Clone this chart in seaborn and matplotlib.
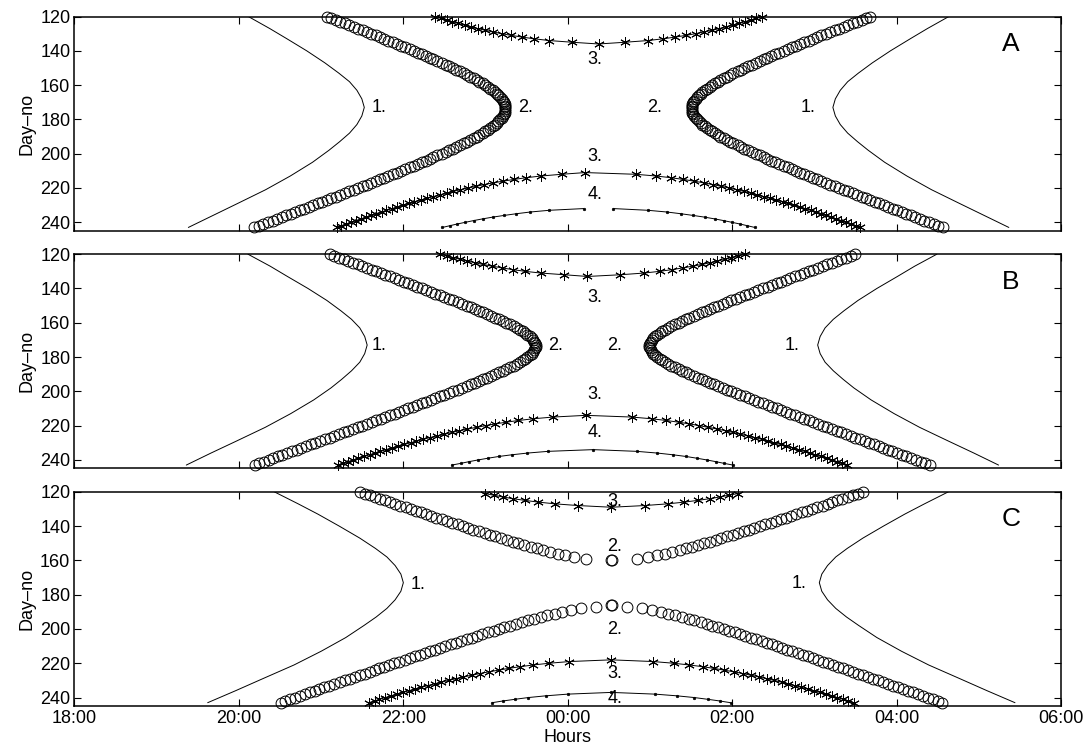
"""
Night-time curves (1.-4.) against day number, three stations A, B, C.
Hours run on a continuous clock: 24 = 00:00, 30 = 06:00.
Every curve is symmetric about local midnight, so it is stored as a
half-width (hours either side of the panel's midnight) per day number.
"""
import numpy as np
import matplotlib
matplotlib.use("Agg")
import matplotlib.pyplot as plt
import seaborn as sns

HOUR_TICKS = [18, 20, 22, 24, 26, 28, 30]
HOUR_LABELS = ["18:00", "20:00", "22:00", "00:00", "02:00", "04:00", "06:00"]
DAY_TICKS = [120, 140, 160, 180, 200, 220, 240]

# local midnight of each panel (hours)
A_MID = 24.375
B_MID = 24.30
C_MID = 24.53

# ---------- curve 1 (plain line) ----------
C1_DAYS = [120, 127, 133, 140, 147, 153, 158, 163, 168, 173, 178,
           183, 188, 193, 198, 205, 213, 221, 229, 236, 243]
A_C1_HW = [4.26, 4.00, 3.79, 3.55, 3.33, 3.16, 3.03, 2.94, 2.88, 2.85, 2.88,
           2.94, 3.03, 3.15, 3.28, 3.48, 3.75, 4.05, 4.39, 4.69, 4.99]
B_C1_HW = [4.19, 3.92, 3.71, 3.46, 3.23, 3.06, 2.93, 2.83, 2.77, 2.74, 2.77,
           2.83, 2.93, 3.05, 3.18, 3.39, 3.67, 3.98, 4.33, 4.64, 4.94]
C_C1_HW = [4.10, 3.81, 3.57, 3.31, 3.06, 2.87, 2.73, 2.63, 2.56, 2.53, 2.56,
           2.63, 2.73, 2.86, 3.01, 3.23, 3.53, 3.86, 4.24, 4.57, 4.91]

# ---------- curve 2 (open circles, one per day) ----------
AB_C2_DAYS = list(range(120, 244))
A_C2_HW = [3.30, 3.25, 3.20, 3.14, 3.09, 3.03, 2.98, 2.93, 2.87, 2.82,
           2.77, 2.71, 2.66, 2.61, 2.56, 2.50, 2.45, 2.40, 2.35, 2.30,
           2.25, 2.20, 2.15, 2.10, 2.05, 2.01, 1.96, 1.91, 1.86, 1.82,
           1.77, 1.73, 1.69, 1.64, 1.60, 1.56, 1.52, 1.48, 1.45, 1.41,
           1.38, 1.35, 1.32, 1.29, 1.26, 1.24, 1.22, 1.20, 1.18, 1.16,
           1.15, 1.14, 1.14, 1.14,
           1.14, 1.14, 1.14, 1.15, 1.16, 1.18, 1.20, 1.22, 1.24, 1.26,
           1.29, 1.32, 1.35, 1.38, 1.41, 1.45, 1.48, 1.52, 1.56, 1.60,
           1.64, 1.69, 1.73, 1.77, 1.82, 1.86, 1.91, 1.96, 2.01, 2.05,
           2.10, 2.15, 2.20, 2.25, 2.30, 2.35, 2.40, 2.45, 2.50, 2.56,
           2.61, 2.66, 2.71, 2.77, 2.82, 2.87, 2.93, 2.98, 3.03, 3.09,
           3.14, 3.20, 3.25, 3.30, 3.36, 3.41, 3.47, 3.52, 3.58, 3.63,
           3.69, 3.74, 3.80, 3.85, 3.91, 3.96, 4.02, 4.08, 4.13, 4.19]
B_C2_HW = [3.19, 3.14, 3.08, 3.02, 2.97, 2.91, 2.85, 2.80, 2.74, 2.68,
           2.63, 2.57, 2.52, 2.46, 2.40, 2.35, 2.29, 2.24, 2.18, 2.13,
           2.07, 2.02, 1.96, 1.91, 1.85, 1.80, 1.75, 1.69, 1.64, 1.59,
           1.53, 1.48, 1.43, 1.38, 1.33, 1.28, 1.23, 1.18, 1.14, 1.09,
           1.05, 1.00, 0.96, 0.92, 0.88, 0.85, 0.82, 0.79, 0.76, 0.74,
           0.72, 0.71, 0.70, 0.69,
           0.69, 0.70, 0.71, 0.72, 0.74, 0.76, 0.79, 0.82, 0.85, 0.88,
           0.92, 0.96, 1.00, 1.05, 1.09, 1.14, 1.18, 1.23, 1.28, 1.33,
           1.38, 1.43, 1.48, 1.53, 1.59, 1.64, 1.69, 1.75, 1.80, 1.85,
           1.91, 1.96, 2.02, 2.07, 2.13, 2.18, 2.24, 2.29, 2.35, 2.40,
           2.46, 2.52, 2.57, 2.63, 2.68, 2.74, 2.80, 2.85, 2.91, 2.97,
           3.02, 3.08, 3.14, 3.19, 3.25, 3.31, 3.37, 3.42, 3.48, 3.54,
           3.59, 3.65, 3.71, 3.77, 3.82, 3.88, 3.94, 4.00, 4.05, 4.11]
C_C2_DAYS = list(range(120, 161)) + list(range(186, 244))
C_C2_HW = [3.06, 3.00, 2.94, 2.88, 2.81, 2.75, 2.69, 2.63, 2.57, 2.50,
           2.44, 2.38, 2.32, 2.25, 2.19, 2.13, 2.06, 2.00, 1.94, 1.87,
           1.81, 1.74, 1.68, 1.61, 1.54, 1.48, 1.41, 1.34, 1.27, 1.20,
           1.13, 1.06, 0.98, 0.91, 0.83, 0.74, 0.65, 0.56, 0.45, 0.31,
           0.005,
           0.005, 0.19, 0.37, 0.49, 0.60, 0.69, 0.78, 0.86, 0.94, 1.01,
           1.09, 1.16, 1.23, 1.30, 1.37, 1.43, 1.50, 1.57, 1.63, 1.70,
           1.76, 1.83, 1.89, 1.95, 2.02, 2.08, 2.14, 2.20, 2.27, 2.33,
           2.39, 2.45, 2.51, 2.58, 2.64, 2.70, 2.76, 2.82, 2.88, 2.94,
           3.00, 3.06, 3.12, 3.18, 3.24, 3.30, 3.37, 3.43, 3.49, 3.55,
           3.61, 3.67, 3.73, 3.79, 3.85, 3.91, 3.97, 4.02]

# ---------- curve 3 (asterisks), spring and late-summer parts ----------
A_C3_TOP_DAYS = list(range(120, 136))
A_C3_TOP_HW = [1.99, 1.92, 1.85, 1.78, 1.71, 1.63, 1.55, 1.47,
               1.38, 1.28, 1.18, 1.06, 0.93, 0.78, 0.60, 0.32]
A_C3_TOP_APEX = (24.375, 136)
A_C3_LOW_DAYS = list(range(212, 244))
A_C3_LOW_HW = [0.45, 0.70, 0.88, 1.03, 1.16, 1.28, 1.39, 1.49, 1.59, 1.68,
               1.77, 1.85, 1.93, 2.01, 2.09, 2.16, 2.24, 2.31, 2.38, 2.45,
               2.51, 2.58, 2.64, 2.71, 2.77, 2.83, 2.89, 2.95, 3.01, 3.07,
               3.13, 3.18]
A_C3_LOW_APEX = (24.21, 211)

B_C3_TOP_DAYS = list(range(120, 133))
B_C3_TOP_HW = [1.85, 1.77, 1.69, 1.61, 1.52, 1.43, 1.33, 1.22, 1.10,
               0.97, 0.82, 0.63, 0.34]
B_C3_TOP_APEX = (24.24, 133)
B_C3_LOW_DAYS = list(range(215, 244))
B_C3_LOW_HW = [0.48, 0.72, 0.90, 1.05, 1.18, 1.30, 1.41, 1.52, 1.62, 1.71,
               1.80, 1.89, 1.98, 2.06, 2.14, 2.21, 2.29, 2.36, 2.44, 2.51,
               2.58, 2.65, 2.71, 2.78, 2.85, 2.91, 2.97, 3.04, 3.10]
B_C3_LOW_APEX = (24.22, 214)

C_C3_TOP_DAYS = list(range(121, 129))
C_C3_TOP_HW = [1.54, 1.43, 1.32, 1.20, 1.05, 0.89, 0.69, 0.41]
C_C3_TOP_APEX = (24.53, 129)
C_C3_LOW_DAYS = list(range(219, 244))
C_C3_LOW_HW = [0.51, 0.76, 0.95, 1.11, 1.25, 1.37, 1.49, 1.60, 1.70, 1.80,
               1.89, 1.98, 2.07, 2.15, 2.23, 2.31, 2.39, 2.46, 2.54, 2.61,
               2.68, 2.75, 2.82, 2.88, 2.95]
C_C3_LOW_APEX = (24.53, 218)

# ---------- curve 4 (small dots) ----------
A_C4_DAYS = list(range(232, 244))
A_C4_HW = [0.18, 0.60, 0.83, 1.00, 1.15, 1.29, 1.41, 1.52, 1.62, 1.72, 1.81, 1.90]
B_C4_DAYS = list(range(235, 244))
B_C4_HW = [0.54, 0.79, 0.98, 1.14, 1.27, 1.39, 1.50, 1.60, 1.71]
B_C4_APEX = (24.31, 234)
C_C4_DAYS = list(range(238, 244))
C_C4_HW = [0.53, 0.80, 1.01, 1.17, 1.32, 1.45]
C_C4_APEX = (24.53, 237)

# curve numbers written on the plot: (text, hours, day)
A_NOTES = [("1.", 21.71, 173), ("1.", 26.92, 173), ("2.", 23.49, 173),
           ("2.", 25.05, 173), ("3.", 24.33, 145.3), ("3.", 24.33, 201.8),
           ("4.", 24.33, 223.6)]
B_NOTES = [("1.", 21.70, 173.5), ("1.", 26.73, 173.5), ("2.", 23.85, 173.5),
           ("2.", 24.57, 173.5), ("3.", 24.33, 145.3), ("3.", 24.33, 201.8),
           ("4.", 24.33, 223.8)]
C_NOTES = [("1.", 22.18, 174), ("1.", 26.81, 173.5), ("3.", 24.57, 125.5),
           ("2.", 24.57, 151.7), ("2.", 24.57, 200.4), ("3.", 24.57, 225.7),
           ("4.", 24.57, 240.7)]

sns.set_theme(style="ticks", rc={
    "xtick.direction": "in", "ytick.direction": "in",
    "xtick.top": True, "ytick.right": True,
    "axes.edgecolor": "black", "axes.linewidth": 1.1,
    "xtick.color": "black", "ytick.color": "black",
    "text.color": "black", "axes.labelcolor": "black",
    "xtick.labelsize": 13, "ytick.labelsize": 13, "axes.labelsize": 13,
})
plt.rcParams["font.family"] = ["Liberation Sans", "DejaVu Sans"]

LINE = dict(color="black", linewidth=0.7)
CIRCLE = dict(color="black", linestyle="none", marker="o", markersize=7.8,
              markerfacecolor="none", markeredgecolor="black",
              markeredgewidth=0.7, clip_on=False)
STAR = dict(color="black", linewidth=0.7, marker=(6, 2, 0), markersize=7.5,
            markeredgecolor="black", markeredgewidth=0.7, clip_on=False)
DOT = dict(color="black", linewidth=0.7, marker="o", markersize=1.8,
           markeredgecolor="black", markeredgewidth=0.5, clip_on=False)


def draw_pair(ax, days, hw, mid, style):
    """Evening and morning branch, drawn separately."""
    hw = np.asarray(hw, dtype=float)
    for side in (-1.0, 1.0):
        sns.lineplot(x=mid + side * hw, y=days, sort=False, estimator=None,
                     ax=ax, **style)


def draw_u(ax, days, hw, mid, apex, style):
    """One line: evening branch, point nearest midnight, morning branch."""
    days = np.asarray(days, dtype=float)
    hw = np.asarray(hw, dtype=float)
    order = np.argsort(-hw, kind="stable")
    d, h = days[order], hw[order]
    xs = np.concatenate([mid - h, [apex[0]], mid + h[::-1]])
    ys = np.concatenate([d, [apex[1]], d[::-1]])
    sns.lineplot(x=xs, y=ys, sort=False, estimator=None, ax=ax, **style)


fig = plt.figure(figsize=(10.86, 7.52), dpi=100)
left, width, height = 0.0686, 0.9084, 0.285
ax_a = fig.add_axes([left, 0.693, width, height])
ax_b = fig.add_axes([left, 0.377, width, height])
ax_c = fig.add_axes([left, 0.061, width, height])

# ---------- Panel A ----------
draw_pair(ax_a, C1_DAYS, A_C1_HW, A_MID, LINE)
draw_pair(ax_a, AB_C2_DAYS, A_C2_HW, A_MID, CIRCLE)
draw_u(ax_a, A_C3_TOP_DAYS, A_C3_TOP_HW, A_MID, A_C3_TOP_APEX, STAR)
draw_u(ax_a, A_C3_LOW_DAYS, A_C3_LOW_HW, A_MID, A_C3_LOW_APEX, STAR)
draw_pair(ax_a, A_C4_DAYS, A_C4_HW, A_MID, DOT)

# ---------- Panel B ----------
draw_pair(ax_b, C1_DAYS, B_C1_HW, B_MID, LINE)
draw_pair(ax_b, AB_C2_DAYS, B_C2_HW, B_MID, CIRCLE)
draw_u(ax_b, B_C3_TOP_DAYS, B_C3_TOP_HW, B_MID, B_C3_TOP_APEX, STAR)
draw_u(ax_b, B_C3_LOW_DAYS, B_C3_LOW_HW, B_MID, B_C3_LOW_APEX, STAR)
draw_u(ax_b, B_C4_DAYS, B_C4_HW, B_MID, B_C4_APEX, DOT)

# ---------- Panel C ----------
draw_pair(ax_c, C1_DAYS, C_C1_HW, C_MID, LINE)
draw_pair(ax_c, C_C2_DAYS, C_C2_HW, C_MID, CIRCLE)
draw_u(ax_c, C_C3_TOP_DAYS, C_C3_TOP_HW, C_MID, C_C3_TOP_APEX, STAR)
draw_u(ax_c, C_C3_LOW_DAYS, C_C3_LOW_HW, C_MID, C_C3_LOW_APEX, STAR)
draw_u(ax_c, C_C4_DAYS, C_C4_HW, C_MID, C_C4_APEX, DOT)

for ax, letter, notes in [(ax_a, "A", A_NOTES), (ax_b, "B", B_NOTES), (ax_c, "C", C_NOTES)]:
    ax.set_xlim(18, 30)
    ax.set_ylim(245, 120)
    ax.set_xticks(HOUR_TICKS)
    ax.set_yticks(DAY_TICKS)
    ax.set_ylabel("Day\u2013no", labelpad=3)
    ax.set_xlabel("")
    for txt, hx, dy in notes:
        ax.text(hx, dy, txt, ha="center", va="center", fontsize=13)
    ax.text(29.39, 136, letter, ha="center", va="center", fontsize=19)
    ax.tick_params(axis="both", which="major", length=5, width=0.8, pad=3)

ax_a.tick_params(labelbottom=False)
ax_b.tick_params(labelbottom=False)
ax_c.set_xticklabels(HOUR_LABELS)
ax_c.set_xlabel("Hours", labelpad=1)

fig.savefig("out.png", dpi=100)
plt.close(fig)
